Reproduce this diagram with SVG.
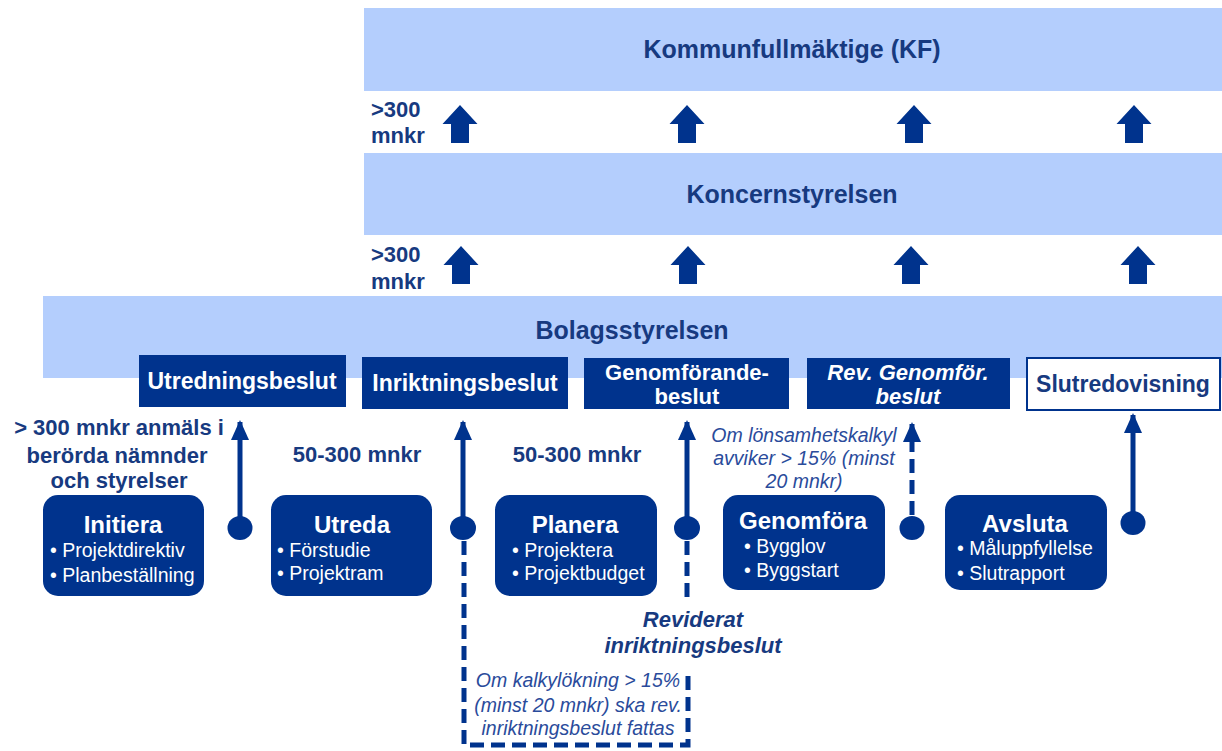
<svg xmlns="http://www.w3.org/2000/svg" xmlns:xlink="http://www.w3.org/1999/xlink" width="1222" height="751" viewBox="0 0 1222 751">
<style>
.band{fill:#b4cefd}
.bandt{font-family:"Liberation Sans",Arial,sans-serif;font-weight:bold;font-size:25px;fill:#173a80;text-anchor:middle}
.dec{fill:#00338d}
.dect{font-family:"Liberation Sans",Arial,sans-serif;font-weight:bold;font-size:23px;fill:#ffffff;text-anchor:middle}
.proc{fill:#00338d}
.pt{font-family:"Liberation Sans",Arial,sans-serif;font-weight:bold;font-size:24px;fill:#ffffff;text-anchor:middle}
.pb{font-family:"Liberation Sans",Arial,sans-serif;font-size:19.5px;fill:#ffffff}
.lbl{font-family:"Liberation Sans",Arial,sans-serif;font-weight:bold;font-size:22px;fill:#173a80}
.it{font-family:"Liberation Sans",Arial,sans-serif;font-style:italic;font-size:19.5px;fill:#2a4b9b;text-anchor:middle}
.blk{fill:#00338d}
.con{stroke:#00338d;stroke-width:5;fill:none}
.dash{stroke-dasharray:14 7}
.dot{fill:#00338d}
</style>
<defs>
<path id="barrow" d="M0,0 L17.5,19 L9,19 L9,38 L-9,38 L-9,19 L-17.5,19 Z"/>
<marker id="ah" viewBox="0 0 20 18" refX="18" refY="9" markerWidth="20" markerHeight="18" orient="auto" markerUnits="userSpaceOnUse">
<path d="M0,0 L20,9 L0,18 Z" fill="#00338d"/>
</marker>
</defs>

<g id="band-kf">
<rect class="band" x="364" y="8" width="858" height="83"/>
<text class="bandt" x="792" y="58">Kommunfullmäktige (KF)</text>
</g>
<g id="band-koncern">
<rect class="band" x="364" y="153" width="858" height="82"/>
<text class="bandt" x="792" y="203">Koncernstyrelsen</text>
</g>
<g id="band-bolag">
<rect class="band" x="43" y="296" width="1179" height="82"/>
<text class="bandt" x="632" y="339">Bolagsstyrelsen</text>
</g>

<g id="limit-labels">
<text class="lbl" x="371" y="117">&gt;300</text>
<text class="lbl" x="371" y="143">mnkr</text>
<text class="lbl" x="371" y="262">&gt;300</text>
<text class="lbl" x="371" y="289">mnkr</text>
</g>

<g id="block-arrows" class="blk">
<use xlink:href="#barrow" x="460" y="105"/>
<use xlink:href="#barrow" x="687" y="105"/>
<use xlink:href="#barrow" x="914" y="105"/>
<use xlink:href="#barrow" x="1134" y="105"/>
<use xlink:href="#barrow" x="461" y="246"/>
<use xlink:href="#barrow" x="688" y="246"/>
<use xlink:href="#barrow" x="911" y="246"/>
<use xlink:href="#barrow" x="1138" y="246"/>
</g>

<g id="dec-utredning">
<rect class="dec" x="139" y="355" width="207" height="52"/>
<text class="dect" x="242" y="389">Utredningsbeslut</text>
</g>
<g id="dec-inriktning">
<rect class="dec" x="362" y="357" width="206" height="52"/>
<text class="dect" x="465" y="391">Inriktningsbeslut</text>
</g>
<g id="dec-genomforande">
<rect class="dec" x="584" y="358" width="205" height="51"/>
<text class="dect" x="687" y="380" style="font-size:22px">Genomförande-</text>
<text class="dect" x="687" y="404" style="font-size:22px">beslut</text>
</g>
<g id="dec-rev">
<rect class="dec" x="807" y="358" width="203" height="51"/>
<text class="dect" x="908" y="380" style="font-size:22px;font-style:italic">Rev. Genomför.</text>
<text class="dect" x="908" y="404" style="font-size:22px;font-style:italic">beslut</text>
</g>
<g id="dec-slut">
<rect x="1027" y="358" width="193" height="52" fill="#ffffff" stroke="#00338d" stroke-width="2"/>
<text class="dect" x="1123" y="392" style="fill:#173a80">Slutredovisning</text>
</g>

<g id="side-labels">
<text class="lbl" text-anchor="middle" x="119" y="435">&gt; 300 mnkr anmäls i</text>
<text class="lbl" text-anchor="middle" x="117" y="463">berörda nämnder</text>
<text class="lbl" text-anchor="middle" x="119" y="488">och styrelser</text>
<text class="lbl" text-anchor="middle" x="357" y="462">50-300 mnkr</text>
<text class="lbl" text-anchor="middle" x="577" y="462">50-300 mnkr</text>
<text class="it" x="804" y="442">Om lönsamhetskalkyl</text>
<text class="it" x="804" y="465">avviker &gt; 15% (minst</text>
<text class="it" x="804" y="488">20 mnkr)</text>
<text class="lbl" text-anchor="middle" font-style="italic" x="693" y="627">Reviderat</text>
<text class="lbl" text-anchor="middle" font-style="italic" x="693" y="653">inriktningsbeslut</text>
<text class="it" x="578" y="687">Om kalkylökning &gt; 15%</text>
<text class="it" x="578" y="712">(minst 20 mnkr) ska rev.</text>
<text class="it" x="578" y="735">inriktningsbeslut fattas</text>
</g>

<g id="connectors">
<line class="con" x1="240" y1="528" x2="240" y2="422" marker-end="url(#ah)"/>
<line class="con" x1="463" y1="528" x2="463" y2="422" marker-end="url(#ah)"/>
<line class="con" x1="687" y1="528" x2="687" y2="422" marker-end="url(#ah)"/>
<line class="con dash" x1="912" y1="515" x2="912" y2="424" marker-end="url(#ah)"/>
<line class="con" x1="1133" y1="523" x2="1133" y2="415" marker-end="url(#ah)"/>
<path class="con dash" d="M464,541 L464,745 L688,745 L688,670"/>
<path class="con dash" d="M687,541 L687,598"/>
<ellipse class="dot" cx="240" cy="528" rx="12.5" ry="12"/>
<ellipse class="dot" cx="463" cy="528" rx="13" ry="12"/>
<ellipse class="dot" cx="687" cy="528" rx="13" ry="12"/>
<ellipse class="dot" cx="912" cy="528" rx="12.5" ry="12"/>
<ellipse class="dot" cx="1133" cy="523" rx="12.5" ry="12"/>
</g>

<g id="proc-initiera">
<rect class="proc" x="43" y="495" width="161" height="101" rx="15"/>
<text class="pt" x="123" y="533">Initiera</text>
<text class="pb" x="50" y="557">• Projektdirektiv</text>
<text class="pb" x="50" y="582">• Planbeställning</text>
</g>
<g id="proc-utreda">
<rect class="proc" x="271" y="495" width="161" height="101" rx="15"/>
<text class="pt" x="352" y="533">Utreda</text>
<text class="pb" x="277" y="557">• Förstudie</text>
<text class="pb" x="277" y="580">• Projektram</text>
</g>
<g id="proc-planera">
<rect class="proc" x="495" y="495" width="162" height="101" rx="15"/>
<text class="pt" x="575" y="533">Planera</text>
<text class="pb" x="512" y="557">• Projektera</text>
<text class="pb" x="512" y="580">• Projektbudget</text>
</g>
<g id="proc-genomfora">
<rect class="proc" x="723" y="495" width="162" height="95" rx="15"/>
<text class="pt" x="803" y="529">Genomföra</text>
<text class="pb" x="744" y="553">• Bygglov</text>
<text class="pb" x="744" y="577">• Byggstart</text>
</g>
<g id="proc-avsluta">
<rect class="proc" x="945" y="495" width="162" height="95" rx="15"/>
<text class="pt" x="1025" y="532">Avsluta</text>
<text class="pb" x="957" y="555">• Måluppfyllelse</text>
<text class="pb" x="957" y="580">• Slutrapport</text>
</g>
</svg>
